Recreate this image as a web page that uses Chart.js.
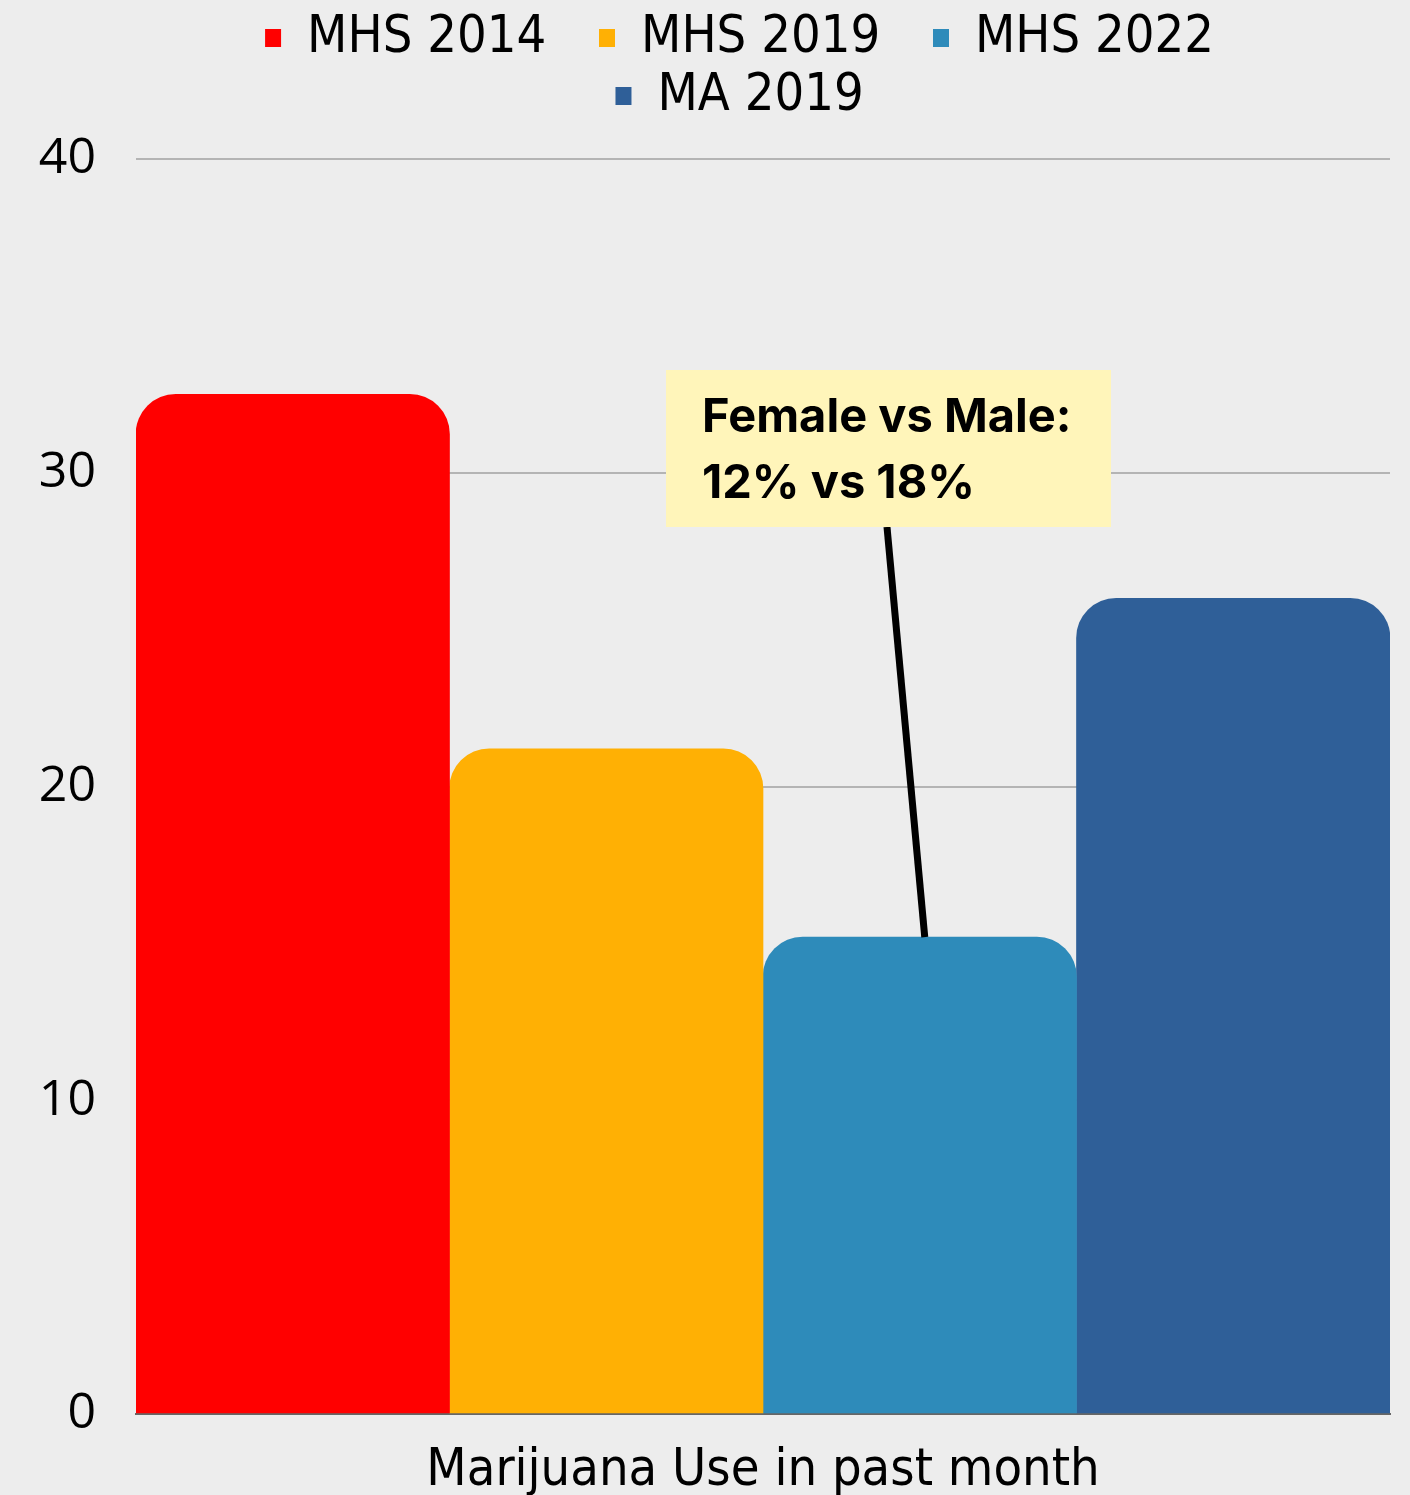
<!DOCTYPE html>
<html>
<head>
<meta charset="utf-8">
<script src="https://cdn.jsdelivr.net/npm/chart.js@4.4.1/dist/chart.umd.min.js"></script>
<style>
  html, body { margin: 0; padding: 0; background: #ededed; }
  #wrap { width: 1410px; height: 1495px; }
</style>
</head>
<body>
<div id="wrap"><canvas id="mjChart" width="1410" height="1495"></canvas></div>
<script>
// chart data
const categories = ['Marijuana Use in past month'];
const seriesNames = ['MHS 2014', 'MHS 2019', 'MHS 2022', 'MA 2019'];
const seriesValues = [[32.5], [21.2], [15.2], [26.0]];
const seriesColors = ['#ff0000', '#ffb004', '#2e8bba', '#2f5f98'];
const yTicks = [0, 10, 20, 30, 40];
const noteLines = ['Female vs Male:', '12% vs 18%'];

const narrow = '"Liberation Sans Narrow", "Arial Narrow", "DejaVu Sans Condensed", sans-serif';

// callout box with a pointer line to the MHS 2022 bar
const callout = {
    id: 'callout',
    afterDatasetsDraw(chart) {
        const ctx = chart.ctx;
        const bar = chart.getDatasetMeta(2).data[0];
        const bx = 666, by = 370, bw = 445, bh = 157;
        ctx.save();
        ctx.strokeStyle = '#000';
        ctx.lineWidth = 7;
        ctx.beginPath();
        ctx.moveTo(887, by + bh);
        ctx.lineTo(bar.x + 5, bar.y);
        ctx.stroke();
        ctx.fillStyle = '#fff5ba';
        ctx.fillRect(bx, by, bw, bh);
        ctx.fillStyle = '#000';
        ctx.font = 'bold 47px Inter, "Noto Sans", sans-serif';
        ctx.textBaseline = 'alphabetic';
        ctx.fillText(noteLines[0], 702, 432);
        ctx.fillText(noteLines[1], 702, 498);
        ctx.restore();
    }
};

// wrap the legend onto two rows and push the plot down below it
const legendSpacer = {
    id: 'legendSpacer',
    beforeUpdate(chart) {
        const lg = chart.legend;
        if (lg && !lg._spaced) {
            const fit = lg.fit;
            lg.fit = function () {
                this.maxWidth = Math.min(this.maxWidth, 1150);
                fit.call(this);
                this.height += 27;
            };
            lg._spaced = true;
        }
    }
};

const bg = {
    id: 'bg',
    beforeDraw(chart) {
        const ctx = chart.ctx;
        ctx.save();
        ctx.fillStyle = '#ededed';
        ctx.fillRect(0, 0, chart.width, chart.height);
        ctx.restore();
    }
};

document.addEventListener('DOMContentLoaded', () => {
    const ctx = document.getElementById('mjChart').getContext('2d');

    const datasets = seriesNames.map((name, i) => ({
        label: name,
        data: seriesValues[i],
        backgroundColor: seriesColors[i],
        borderRadius: { topLeft: 40, topRight: 40, bottomLeft: 0, bottomRight: 0 },
        borderSkipped: 'bottom',
        categoryPercentage: 1,
        barPercentage: 1
    }));

    new Chart(ctx, {
        type: 'bar',
        data: { labels: categories, datasets: datasets },
        options: {
            responsive: false,
            animation: false,
            layout: { padding: { left: 0, right: 20, top: 6, bottom: 0 } },
            scales: {
                x: {
                    afterFit: (scale) => { scale.height = 81; },
                    grid: { display: false },
                    border: { display: true, color: '#666666', width: 2 },
                    ticks: { color: '#000', padding: 18, font: { family: narrow, size: 52 } }
                },
                y: {
                    min: 0,
                    max: 40,
                    afterFit: (scale) => { scale.width = 136; },
                    afterBuildTicks: (scale) => { scale.ticks = yTicks.map(v => ({ value: v })); },
                    grid: { color: '#b4b4b4', lineWidth: 2, drawTicks: false },
                    border: { display: false },
                    ticks: { color: '#000', padding: 40, font: { family: '"Open Sans", sans-serif', size: 50 } }
                }
            },
            plugins: {
                legend: {
                    position: 'top',
                    fullSize: false,
                    labels: {
                        color: '#000',
                        boxWidth: 16,
                        boxHeight: 18,
                        padding: 6,
                        font: { family: narrow, size: 52 },
                        generateLabels: (chart) => chart.data.datasets.map((ds, i) => ({
                            text: ds.label + '\u2003',
                            fillStyle: ds.backgroundColor,
                            strokeStyle: ds.backgroundColor,
                            lineWidth: 0,
                            hidden: false,
                            datasetIndex: i
                        }))
                    }
                },
                tooltip: { enabled: false }
            }
        },
        plugins: [bg, legendSpacer, callout]
    });
});
</script>
</body>
</html>
